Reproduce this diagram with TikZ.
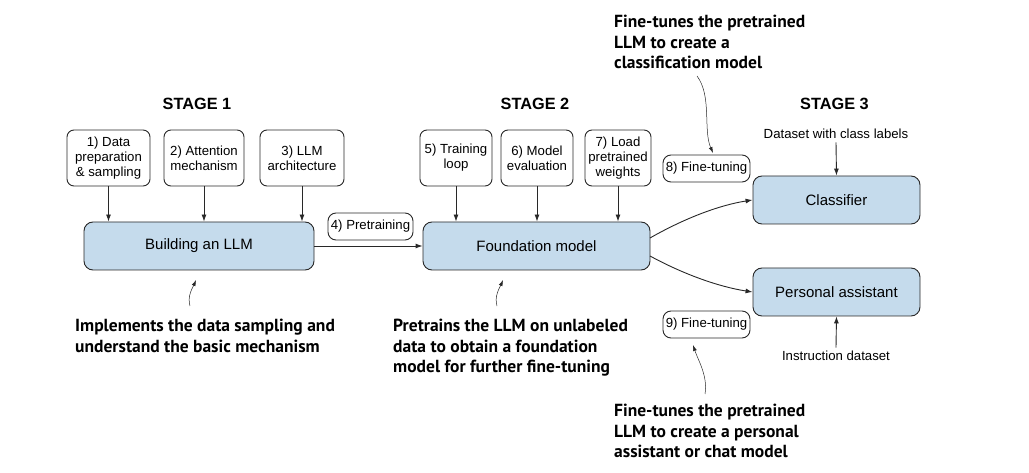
\documentclass[tikz,border=0pt]{standalone}
\usepackage{fontspec}
\setmainfont{Liberation Sans}
\newfontfamily\notefont{PT Sans}
\usetikzlibrary{arrows.meta}
\definecolor{boxblue}{RGB}{197,219,236}
\definecolor{edge}{RGB}{40,40,40}
\tikzset{
  smallbox/.style={draw=edge, line width=0.9pt, rounded corners=7pt, align=center, font=\fontsize{13.2}{15}\selectfont, inner sep=0pt},
  bigbox/.style={draw=edge, line width=0.9pt, rounded corners=9pt, fill=boxblue, font=\fontsize{15}{18}\selectfont, inner sep=0pt},
  tagbox/.style={draw=edge, line width=0.9pt, rounded corners=8pt, font=\fontsize{13.2}{15}\selectfont, inner sep=0pt},
  stagelbl/.style={font=\bfseries\fontsize{16.3}{19}\selectfont},
  note/.style={font=\notefont\bfseries\fontsize{17.5}{20.5}\selectfont, align=left, anchor=north west, inner sep=0pt},
  plain/.style={font=\fontsize{13.2}{15}\selectfont},
  arr/.style={-{Latex[length=7pt,width=5pt]}, line width=0.9pt, draw=edge},
  thinarr/.style={-{Latex[length=6pt,width=4pt]}, line width=0.5pt, draw=edge},
}
\begin{document}
\begin{tikzpicture}[x=1pt,y=-1pt]
\useasboundingbox (0,0) rectangle (1029,473);
% stage labels
\node[stagelbl] (s1) at (197,103.5) {STAGE 1};
\node[stagelbl] (s2) at (535,103.5) {STAGE 2};
\node[stagelbl] (s3) at (834.5,103.5) {STAGE 3};
% stage 1 boxes
\node[smallbox, minimum width=83pt, minimum height=56pt] (b1) at (108.5,158) {1) Data\\preparation\\\& sampling};
\node[smallbox, minimum width=80pt, minimum height=56pt] (b2) at (204,158) {2) Attention\\mechanism};
\node[smallbox, minimum width=84pt, minimum height=56pt] (b3) at (302,158) {3) LLM\\architecture};
\node[bigbox, minimum width=230pt, minimum height=48pt] (build) at (199,246) {Building an LLM};
\draw[arr] (b1.south) -- (b1.south |- build.north);
\draw[arr] (b2.south) -- (b2.south |- build.north);
\draw[arr] (b3.south) -- (b3.south |- build.north);
% stage 2
\node[smallbox, minimum width=72pt, minimum height=56pt] (b5) at (456,158) {5) Training\\loop};
\node[smallbox, minimum width=72pt, minimum height=56pt] (b6) at (537,158) {6) Model\\evaluation};
\node[smallbox, minimum width=66pt, minimum height=56pt] (b7) at (618,158) {7) Load\\pretrained\\weights};
\node[bigbox, minimum width=227pt, minimum height=48pt] (found) at (536.5,246) {Foundation model};
\draw[arr] (b5.south) -- (b5.south |- found.north);
\draw[arr] (b6.south) -- (b6.south |- found.north);
\draw[arr] (b7.south) -- (b7.south |- found.north);
\node[tagbox, minimum width=85pt, minimum height=27pt] (t4) at (370.5,226.5) {4) Pretraining};
\draw[arr] (build.east) -- (found.west);
% stage 3
\node[bigbox, minimum width=167pt, minimum height=48pt] (cls) at (836.5,200) {Classifier};
\node[bigbox, minimum width=167pt, minimum height=48pt] (pa) at (836.5,292) {Personal assistant};
\node[tagbox, minimum width=87pt, minimum height=27pt] (t8) at (706.5,168.5) {8) Fine-tuning};
\node[tagbox, minimum width=87pt, minimum height=27pt] (t9) at (706.5,324.5) {9) Fine-tuning};
\node[plain] (dcl) at (836,134) {Dataset with class labels};
\node[plain] (ids) at (836,356) {Instruction dataset};
\draw[arr] (dcl.south) -- (cls.north);
\draw[arr] (ids.north) -- (pa.south);
\coordinate (fo1) at (650,238);
\coordinate (fo2) at (650,256);
\draw[arr] (fo1) .. controls (685,218) and (720,205) .. (cls.west);
\draw[arr] (fo2) .. controls (685,275) and (720,287) .. (pa.west);
% notes
\node[note] (n1) at (75,319) {Implements the data sampling and\\understand the basic mechanism};
\node[note] (n2) at (393,319) {Pretrains the LLM on unlabeled\\data to obtain a foundation\\model for further fine-tuning};
\node[note] (n3) at (614,15) {Fine-tunes the pretrained\\LLM to create a\\classification model};
\node[note] (n4) at (614,404) {Fine-tunes the pretrained\\LLM to create a personal\\assistant or chat model};
\coordinate (a1) at (190,306);
\coordinate (a1t) at (196,280);
\draw[thinarr] (a1) .. controls (187,296) and (193,287) .. (a1t);
\coordinate (a2) at (497,306);
\coordinate (a2t) at (503,280);
\draw[thinarr] (a2) .. controls (494,296) and (500,287) .. (a2t);
\coordinate (a3) at (697,76);
\coordinate (a3t) at (713,153);
\draw[thinarr] (a3) .. controls (712,96) and (703,130) .. (a3t);
\coordinate (a4) at (705,394);
\coordinate (a4t) at (693,345);
\draw[thinarr] (a4) .. controls (708,376) and (698,360) .. (a4t);
\end{tikzpicture}
\end{document}
